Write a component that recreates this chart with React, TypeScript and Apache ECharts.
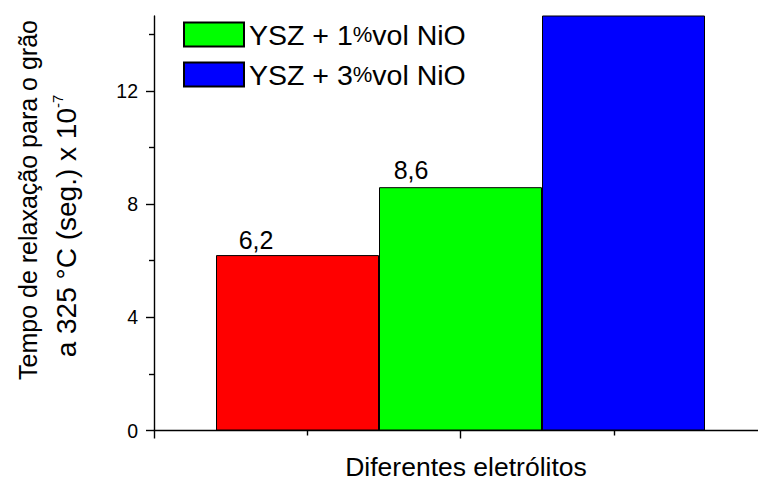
import React, { useEffect, useRef } from "react";
import * as echarts from "echarts";

// ---- data ----
const seriesNames = ["YSZ", "YSZ + 1%vol NiO", "YSZ + 3%vol NiO"];
const seriesValues = [6.2, 8.6, 16.5];
const valueLabels = ["6,2", "8,6", ""];
const groupPosition = 2;
const yMajorTicks = [0, 4, 8, 12];
const yMinorTicks = [2, 6, 10, 14];
const yMax = 14.65;
const legendNames = ["YSZ + 1%vol NiO", "YSZ + 3%vol NiO"];
const yTitleLine1 = "Tempo de relaxação para o grão";
const yTitleLine2 = "a 325 °C (seg.) x 10";
const yTitleSup = "-7";
const xTitle = "Diferentes eletrólitos";

const colors = ["#ff0000", "#00ff00", "#0000ff"];
const labelPos: [number, number][] = [[40, -3], [32, -5], [0, 0]];
const FONT = "'Liberation Sans', Arial, sans-serif";
const AXW = 1.4;

export default function App() {
  const ref = useRef<HTMLDivElement>(null);
  useEffect(() => {
    if (!ref.current) return;
    const chart = echarts.init(ref.current, undefined, { renderer: "svg" });
    const option: any = {
      animation: false,
      backgroundColor: "#ffffff",
      textStyle: { fontFamily: FONT, color: "#000" },
      grid: {
        left: 154,
        top: 16,
        right: -9,
        bottom: 53.5,
        containLabel: false,
        outerBoundsMode: "none",
      },
      legend: {
        data: legendNames,
        orient: "vertical",
        left: 183,
        top: 20,
        padding: 0,
        itemGap: 11,
        itemWidth: 60,
        itemHeight: 24,
        icon: "rect",
        textStyle: {
          fontFamily: FONT,
          fontSize: 28.5,
          lineHeight: 24,
          color: "#000",
          rich: { p: { fontFamily: FONT, fontSize: 22, color: "#000" } },
        },
        formatter: (n: string) => n.replace("%", "{p|%}"),
      },
      xAxis: {
        type: "value",
        min: 0,
        max: 4,
        interval: 2,
        axisLine: { show: true, onZero: false, lineStyle: { color: "#000", width: AXW } },
        axisTick: { show: true, inside: false, length: 8, lineStyle: { color: "#000", width: AXW } },
        minorTick: { show: true, splitNumber: 2, length: 5, lineStyle: { color: "#000", width: AXW } },
        axisLabel: { show: false },
        splitLine: { show: false },
        minorSplitLine: { show: false },
      },
      yAxis: [
        {
          type: "value",
          position: "left",
          min: 0,
          max: yMax,
          interval: 4,
          axisLine: { show: true, onZero: false, lineStyle: { color: "#000", width: AXW } },
          axisTick: { show: true, inside: false, length: 8, customValues: yMajorTicks, lineStyle: { color: "#000", width: AXW } },
          axisLabel: {
            show: true,
            customValues: yMajorTicks,
            fontFamily: FONT,
            fontSize: 19.5,
            color: "#000",
            margin: 16,
          },
          splitLine: { show: false },
        },
        {
          type: "value",
          position: "left",
          offset: 0,
          min: 0,
          max: yMax,
          interval: 2,
          axisLine: { show: false },
          axisTick: { show: true, inside: false, length: 5, customValues: yMinorTicks, lineStyle: { color: "#000", width: AXW } },
          axisLabel: { show: false },
          splitLine: { show: false },
        },
      ],
      series: seriesNames.map((name, i) => ({
        type: "bar",
        name,
        xAxisIndex: 0,
        yAxisIndex: 0,
        data: [[groupPosition, seriesValues[i]]],
        barWidth: 163,
        barGap: "0%",
        clip: true,
        itemStyle: { color: colors[i], borderColor: "#000", borderWidth: 1 },
        label: {
          show: valueLabels[i] !== "",
          formatter: valueLabels[i],
          position: labelPos[i],
          align: "center",
          verticalAlign: "bottom",
          fontFamily: FONT,
          fontSize: 25,
          color: "#000",
        },
      })),
      graphic: [
        {
          type: "text",
          x: 28,
          y: 200,
          rotation: Math.PI / 2,
          style: {
            text: yTitleLine1,
            fontFamily: FONT,
            fontSize: 25,
            fill: "#000",
            align: "center",
            verticalAlign: "middle",
          },
        },
        {
          type: "text",
          x: 65,
          y: 226,
          rotation: Math.PI / 2,
          style: {
            text: `{m|${yTitleLine2}}{s|${yTitleSup}}`,
            fontFamily: FONT,
            fontSize: 28,
            fill: "#000",
            align: "center",
            verticalAlign: "middle",
            rich: {
              m: { fontFamily: FONT, fontSize: 28, fill: "#000", lineHeight: 30, verticalAlign: "bottom" },
              s: { fontFamily: FONT, fontSize: 15, fill: "#000", lineHeight: 30, verticalAlign: "top" },
            },
          },
        },
        {
          type: "text",
          x: 466,
          y: 467,
          style: {
            text: xTitle,
            fontFamily: FONT,
            fontSize: 26.5,
            fill: "#000",
            align: "center",
            verticalAlign: "middle",
          },
        },
      ],
    };
    chart.setOption(option);
    return () => chart.dispose();
  }, []);
  return (
    <div
      ref={ref}
      style={{ position: "absolute", left: 0, top: 0, width: 758, height: 484 }}
    />
  );
}
